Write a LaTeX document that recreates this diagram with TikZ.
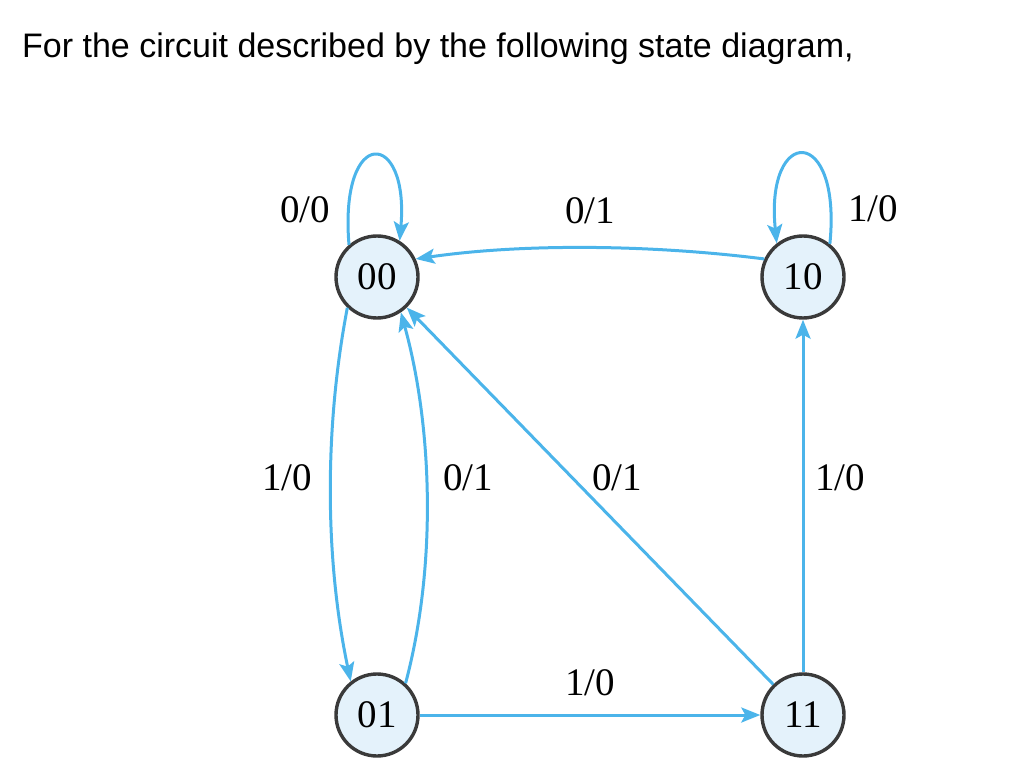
\documentclass[tikz,border=0pt]{standalone}
\usepackage{fontspec}
\setmainfont{Liberation Serif}
\newfontfamily\titlefont{Liberation Sans}
\usetikzlibrary{arrows.meta}
\definecolor{edgeblue}{HTML}{4BB4EA}
\definecolor{statefill}{HTML}{E4F2FB}
\definecolor{stateline}{HTML}{3A3A3A}
\begin{document}
\begin{tikzpicture}[x=1pt,y=1pt,
  state/.style={circle,draw=stateline,line width=3.4pt,fill=statefill,
    minimum size=82pt,inner sep=0pt,font=\fontsize{39}{39}\selectfont},
  lbl/.style={font=\fontsize{39}{39}\selectfont,inner sep=0pt},
  edge/.style={draw=edgeblue,line width=3pt,
    -{Stealth[length=19pt,width=15pt,inset=4pt]}}]
\useasboundingbox (0,0) rectangle (1024,772);
\node[anchor=base west,inner sep=0pt,font=\titlefont\fontsize{34}{34}\selectfont] (title) at (22,714)
  {For the circuit described by the following state diagram,};
\node[state] (n00) at (377,495) {00};
\node[state] (n10) at (803,495) {10};
\node[state] (n01) at (377,57) {01};
\node[state] (n11) at (803,57) {11};
% self loops
\draw[edge] (n00.131) .. controls +(-10,120) and +(10,112) .. (n00.58);
\draw[edge] (n10.51) .. controls +(12,120) and +(-12,118) .. (n10.128);
% 10 -> 00
\draw[edge] (n10.155) .. controls +(-110,14) and +(110,16) .. (n00.25);
% 00 -> 01
\draw[edge] (n00.226) .. controls +(-23,-120) and +(-26,123) .. (n01.128);
% 01 -> 00
\draw[edge] (n01.48) .. controls +(32,120) and +(31,-112) .. (n00.304);
% straight ones
\draw[edge] (n11) -- (n00);
\draw[edge] (n11) -- (n10);
\draw[edge] (n01) -- (n11);
% labels
\node[lbl] (l1) at (305,562) {0/0};
\node[lbl] (l2) at (873,563) {1/0};
\node[lbl] (l3) at (590,561) {0/1};
\node[lbl] (l4) at (287,294) {1/0};
\node[lbl] (l5) at (468,294) {0/1};
\node[lbl] (l6) at (617,294) {0/1};
\node[lbl] (l7) at (840,294) {1/0};
\node[lbl] (l8) at (590,89) {1/0};
\end{tikzpicture}
\end{document}
